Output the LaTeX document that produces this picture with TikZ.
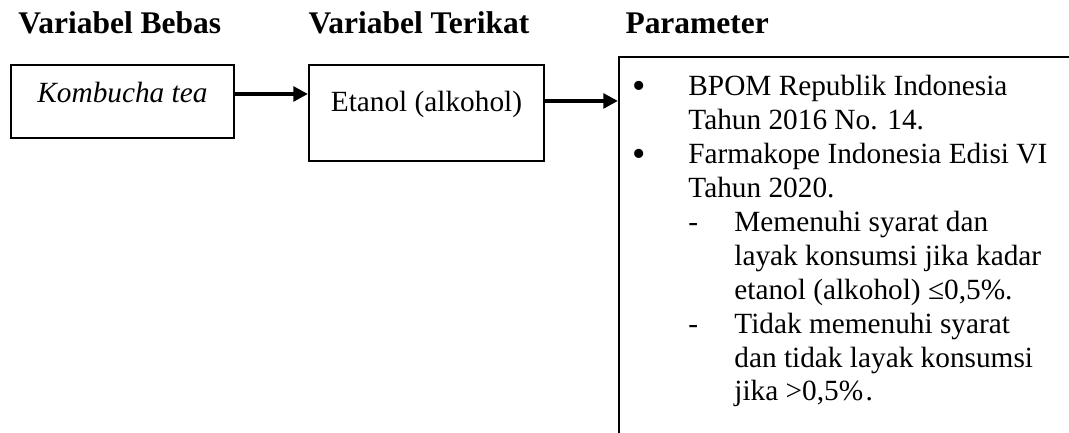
\documentclass[tikz,border=0pt]{standalone}
\usepackage{fontspec}
\setmainfont{Liberation Serif}
\usepackage{tikz}
\usetikzlibrary{arrows.meta, positioning}
\tikzset{
    heading/.style={
        inner sep=0pt,
        anchor=base west,
        font=\fontsize{12.9}{15}\selectfont\bfseries
    },
    varbox/.style={
        rectangle,
        draw=black,
        line width=0.8pt,
        inner sep=0pt,
        align=center,
        font=\fontsize{12}{13.9}\selectfont
    },
    parambox/.style={
        rectangle,
        draw=black,
        line width=0.8pt,
        minimum width=8cm,
        minimum height=6.5cm
    },
    paramlist/.style={
        inner sep=0pt,
        align=left,
        anchor=base west,
        font=\fontsize{12}{13.9}\selectfont
    },
    link/.style={
        draw=black,
        line width=1.6pt,
        -{Triangle[length=6pt,width=6pt]}
    }
}
\newcommand{\pbullet}{\makebox[19.25pt][l]{\hspace*{-3.8pt}\raisebox{-1.2pt}{\scalebox{1.3}{\textbullet}}}}

\begin{document}
\begin{tikzpicture}
\useasboundingbox (0,0) rectangle (15.388,-6.219);
\clip (0,0) rectangle (15.388,-6.219);

% Headings
\node[heading] (hbebas) at (0.259,-0.475) {Variabel Bebas};
\node[heading] (hterikat) at (4.434,-0.475) {Variabel Terikat};
\node[heading] (hparam) at (8.997,-0.475) {Parameter};

% Variable boxes
\node[varbox, anchor=north west, minimum width=3.21cm, text height=0.547cm, text depth=0.504cm] (bebas) at (0.144,-0.921) {\itshape Kombucha tea};
\node[varbox, right=1.051cm of bebas.north east, anchor=north west, minimum width=3.383cm, text height=0.677cm, text depth=0.705cm] (terikat) {Etanol (alkohol)};

% Parameter box (runs past the page edge)
\node[parambox, right=1.051cm of terikat.north east, anchor=north west, yshift=0.115cm] (param) {};
% base of the last line
\node[paramlist] (plist) at ([xshift=0.331cm, yshift=-4.966cm]param.north west) {%
\pbullet BPOM Republik Indonesia\\
\hspace*{19.25pt}Tahun 2016 No. 14.\\
\pbullet Farmakope Indonesia Edisi VI\\
\hspace*{19.25pt}Tahun 2020.\\
\hspace*{19.25pt}\makebox[18.84pt][l]{-}Memenuhi syarat dan\\
\hspace*{38.09pt}layak konsumsi jika kadar\\
\hspace*{38.09pt}etanol (alkohol) ≤0,5\%.\\
\hspace*{19.25pt}\makebox[18.84pt][l]{-}Tidak memenuhi syarat\\
\hspace*{38.09pt}dan tidak layak konsumsi\\
\hspace*{38.09pt}jika >0,5\%\kern1pt.};

% Arrows
\draw[link] ([yshift=0.108cm]bebas.east) -- ([yshift=0.108cm]bebas.east -| terikat.west);
\draw[link] ([yshift=0.173cm]terikat.east) -- ([yshift=0.173cm]terikat.east -| param.west);

\end{tikzpicture}
\end{document}
